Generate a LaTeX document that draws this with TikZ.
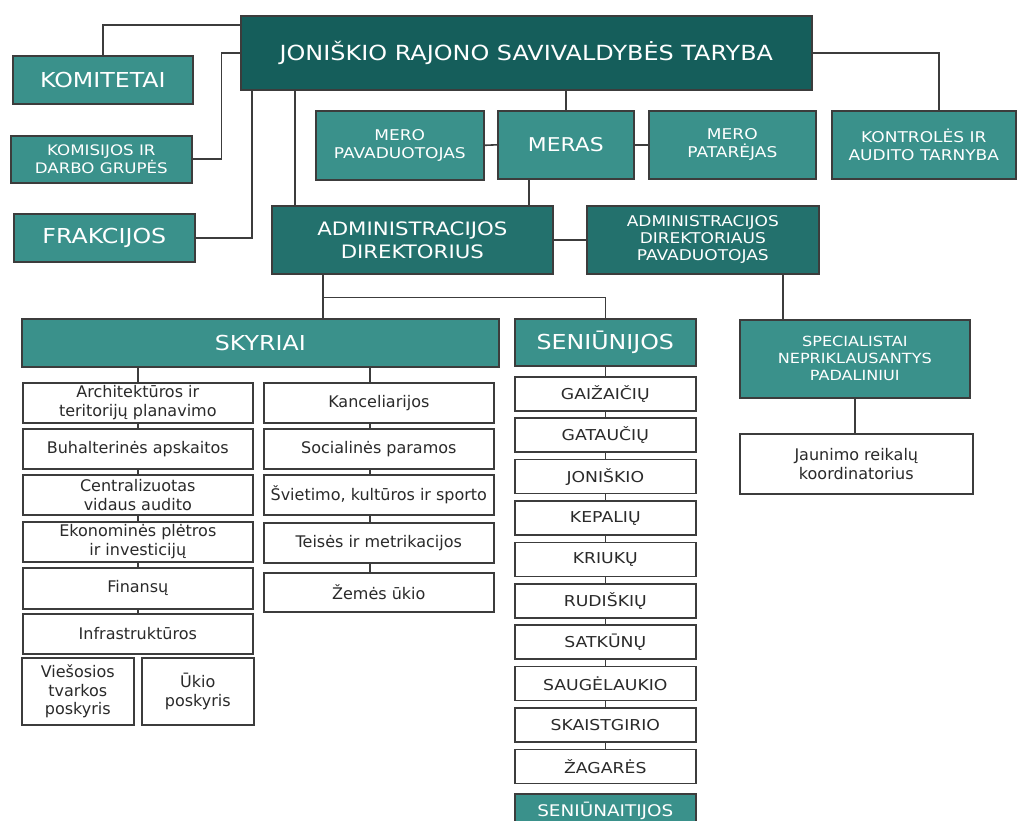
\documentclass[tikz,border=0pt]{standalone}
\usepackage{fontspec}
\setmainfont{DejaVu Sans}
\newfontfamily\capsfont{DejaVu Sans}[FakeStretch=1.15]
\usepackage{tikz}
\usetikzlibrary{positioning,calc}
\usepackage{xcolor}
\definecolor{tarybacol}{HTML}{155E5B}
\definecolor{admcol}{HTML}{23716D}
\definecolor{tealcol}{HTML}{3A918B}
\definecolor{linecol}{HTML}{3C3C3C}
\definecolor{txtcol}{HTML}{2A2A2A}

\begin{document}
\begin{tikzpicture}[x=1pt, y=-1pt,
        lvl/.style={draw=linecol, line width=1.6pt, fill=#1, text=white,
            align=center, inner sep=0pt, anchor=north west},
        cell/.style={draw=linecol, line width=1.6pt, fill=white, text=txtcol,
            align=center, inner sep=0pt, anchor=north west,
            font=\fontsize{16}{18.5}\selectfont},
        big/.style={font=\capsfont\fontsize{20.6}{24}\selectfont},
        small/.style={font=\capsfont\fontsize{14.8}{18}\selectfont},
        link/.style={draw=linecol, line width=1.6pt}
    ]
    \useasboundingbox (0,0) rectangle (1017,821);
    \clip (0,0) rectangle (1017,821);
    % taryba ir jai pavaldus
    \node[lvl=tarybacol, minimum width=571pt, minimum height=74pt,
        font=\capsfont\fontsize{20.8}{24}\selectfont] (taryba) at (240,15)
        {JONIŠKIO RAJONO SAVIVALDYBĖS TARYBA};
    \node[lvl=tealcol, big, minimum width=180pt, minimum height=48pt] (komitetai) at (12,55) {KOMITETAI};
    \node[lvl=tealcol, small, font=\capsfont\fontsize{14.5}{18}\selectfont,
        minimum width=181pt, minimum height=47pt] (komisijos) at (10,135) {KOMISIJOS IR\\DARBO GRUPĖS};
    \node[lvl=tealcol, big, minimum width=181pt, minimum height=48pt] (frakcijos) at (13,213) {FRAKCIJOS};
    \node[lvl=tealcol, small, minimum width=168pt, minimum height=69pt] (meropav) at (315,110) {MERO\\PAVADUOTOJAS};
    \node[lvl=tealcol, big, font=\capsfont\fontsize{19}{24}\selectfont,
        minimum width=136pt, minimum height=68pt] (meras) at (497,110) {MERAS};
    \node[lvl=tealcol, small, minimum width=167pt, minimum height=68pt] (meropat) at (648,110) {MERO\\PATARĖJAS};
    \node[lvl=tealcol, small, minimum width=184pt, minimum height=68pt] (kontrole) at (831,110) {KONTROLĖS IR\\AUDITO TARNYBA};
    % administracija
    \node[lvl=admcol, font=\capsfont\fontsize{18.5}{23}\selectfont,
        minimum width=281pt, minimum height=68pt] (admdir) at (271,205) {ADMINISTRACIJOS\\DIREKTORIUS};
    \node[lvl=admcol, small, font=\capsfont\fontsize{14.8}{17}\selectfont,
        minimum width=232pt, minimum height=68pt] (admpav) at (586,205) {ADMINISTRACIJOS\\DIREKTORIAUS\\PAVADUOTOJAS};
    \node[lvl=tealcol, big, minimum width=477pt, minimum height=48pt] (skyriai) at (21,318) {SKYRIAI};
    \node[lvl=tealcol, big, minimum width=181pt, minimum height=47pt] (seniunijos) at (514,318) {SENIŪNIJOS};
    \node[lvl=tealcol, small, font=\capsfont\fontsize{14}{17}\selectfont,
        minimum width=230pt, minimum height=78pt] (specialistai) at (739,319) {SPECIALISTAI\\NEPRIKLAUSANTYS\\PADALINIUI};
    \node[cell, minimum width=233pt, minimum height=60pt] (jaunimo) at (739,433) {Jaunimo reikalų\\koordinatorius};
    % skyriai
    \node[cell, minimum width=230pt, minimum height=40pt] (arch) at (22,382) {Architektūros ir\\teritorijų planavimo};
    \node[cell, minimum width=230pt, minimum height=40pt] (buh) at (22,428) {Buhalterinės apskaitos};
    \node[cell, minimum width=230pt, minimum height=40pt] (audit) at (22,474) {Centralizuotas\\vidaus audito};
    \node[cell, minimum width=230pt, minimum height=40pt] (eko) at (22,521) {Ekonominės plėtros\\ir investicijų};
    \node[cell, minimum width=230pt, minimum height=41pt] (fin) at (22,567) {Finansų};
    \node[cell, minimum width=230pt, minimum height=40pt] (infra) at (22,613) {Infrastruktūros};
    \node[cell, minimum width=112pt, minimum height=67pt] (viesosios) at (21,657) {Viešosios\\tvarkos\\poskyris};
    \node[cell, minimum width=112pt, minimum height=67pt] (ukio) at (141,657) {Ūkio\\poskyris};
    \node[cell, minimum width=230pt, minimum height=40pt] (kanc) at (263,382) {Kanceliarijos};
    \node[cell, minimum width=230pt, minimum height=40pt] (soc) at (263,428) {Socialinės paramos};
    \node[cell, minimum width=230pt, minimum height=40pt] (svie) at (263,474) {Švietimo, kultūros ir sporto};
    \node[cell, minimum width=230pt, minimum height=40pt] (teis) at (263,522) {Teisės ir metrikacijos};
    \node[cell, minimum width=230pt, minimum height=39pt] (zem) at (263,572) {Žemės ūkio};
    % seniunijos
    \foreach \name [count=\i from 0] in {GAIŽAIČIŲ, GATAUČIŲ, JONIŠKIO, KEPALIŲ, KRIUKŲ,
            RUDIŠKIŲ, SATKŪNŲ, SAUGĖLAUKIO, SKAISTGIRIO, ŽAGARĖS}
        \node[cell, font=\capsfont\fontsize{15}{18}\selectfont,
            minimum width=181pt, minimum height=34pt] (s\i) at (514,{376+41.4*\i}) {\name};
    \node[lvl=tealcol, font=\capsfont\fontsize{16}{18}\selectfont,
        minimum width=181pt, minimum height=34pt] (seniunaitijos) at (514,793) {SENIŪNAITIJOS};

    % jungtys
    \draw[link] (komitetai.north) |- ([yshift=-10pt]taryba.north west);
    \draw[link] (komisijos.east) -- ++(29,0) |- (taryba.west);
    \draw[link] (frakcijos.east) -| ([xshift=12pt]taryba.south west);
    \draw[link] ([xshift=24pt]admdir.north west) -- ([xshift=24pt]admdir.north west |- taryba.south);
    \draw[link] (meras.north) -- (meras.north |- taryba.south);
    \draw[link] (meropav.east) -- (meras.west);
    \draw[link] (meras.east) -- (meropat.west);
    \draw[link] (taryba.east) -| ([xshift=15pt]kontrole.north);
    \draw[link] ([xshift=-37pt]meras.south) -- ([xshift=-37pt]meras.south |- admdir.north);
    \draw[link] (admdir.east) -- (admpav.west);
    \draw[link] ([xshift=80pt]admpav.south) -- ([xshift=80pt]admpav.south |- specialistai.north);
    \draw[link] (specialistai.south) -- (specialistai.south |- jaunimo.north);
    \coordinate (fork) at ($([xshift=-89.5pt]admdir.south)+(0,23)$);
    \draw[link] ([xshift=-89.5pt]admdir.south) -- (fork |- skyriai.north);
    \draw[link] (fork) -| (seniunijos.north);
    \draw[link] (arch.north |- skyriai.south) -- (arch.north);
    \draw[link] ([xshift=-9pt]kanc.north |- skyriai.south) -- ([xshift=-9pt]kanc.north);
    \foreach \a/\b in {arch/buh, buh/audit, audit/eko, eko/fin, fin/infra}
        \draw[link] (\a.south) -- (\b.north);
    \foreach \a/\b in {kanc/soc, soc/svie, svie/teis, teis/zem}
        \draw[link] ([xshift=-9pt]\a.south) -- ([xshift=-9pt]\b.north);
    \draw[link] (seniunijos.south) -- (s0.north);
    \foreach \i in {0,...,8}{
        \pgfmathtruncatemacro\j{\i+1}
        \draw[link] (s\i.south) -- (s\j.north);
    }
\end{tikzpicture}
\end{document}
